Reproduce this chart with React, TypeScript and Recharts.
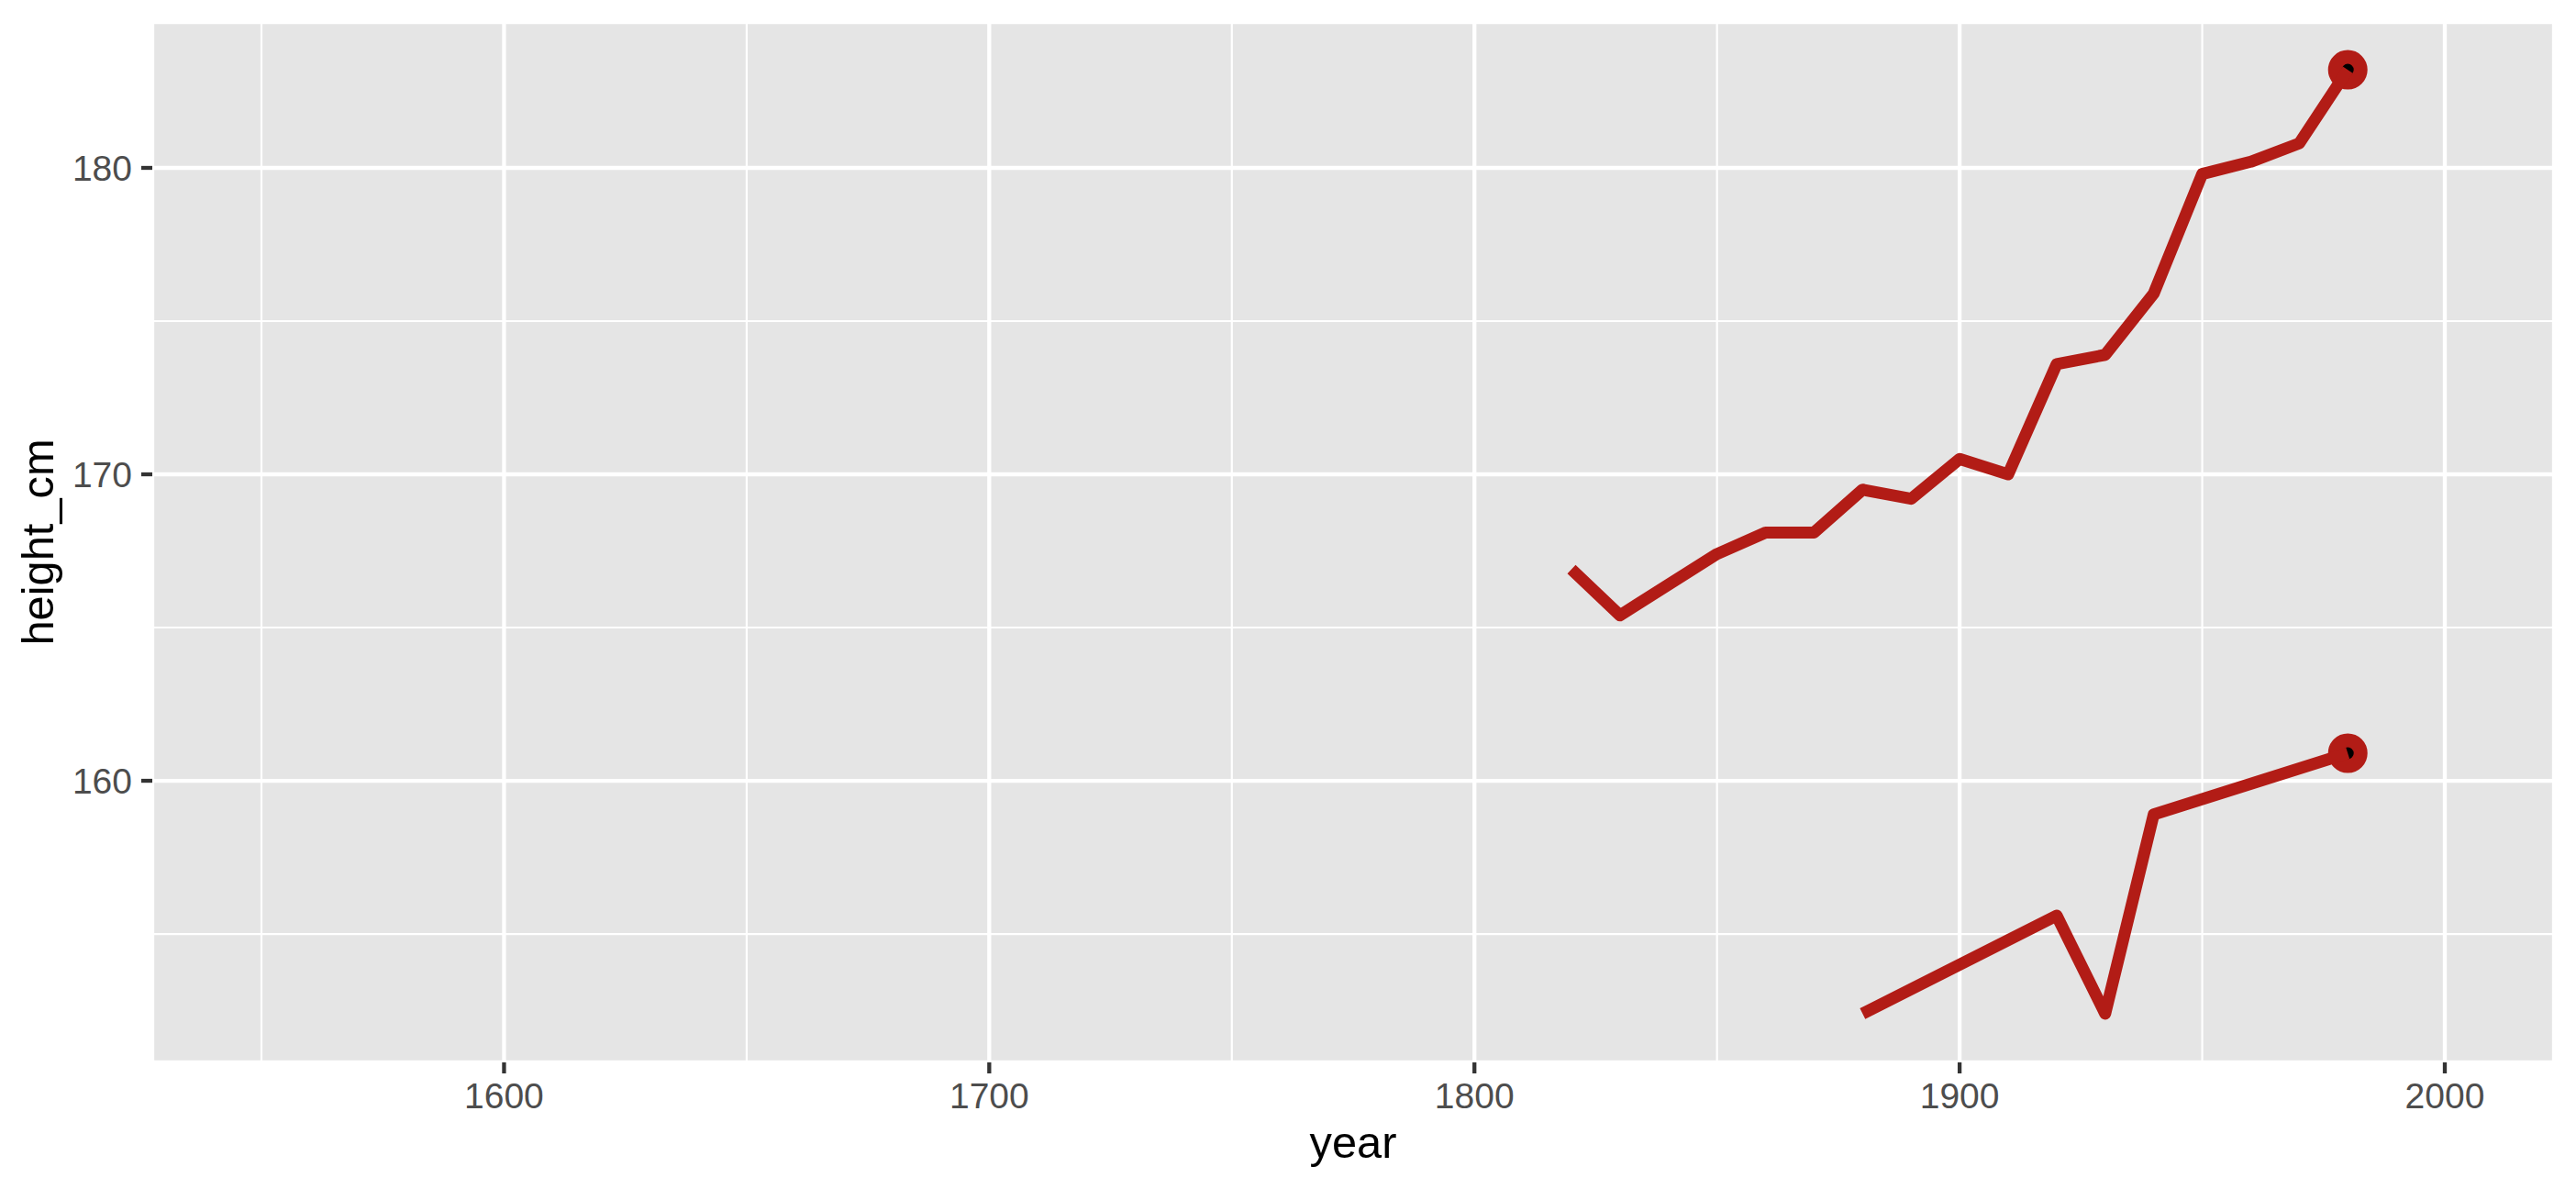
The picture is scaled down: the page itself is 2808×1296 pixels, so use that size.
import React from 'react';
import {
  ComposedChart,
  Line,
  Scatter,
  XAxis,
  YAxis,
  CartesianGrid,
  ReferenceLine,
  Label,
} from 'recharts';

// ---- data ----
const topYears = [1820, 1830, 1850, 1860, 1870, 1880, 1890, 1900, 1910, 1920, 1930, 1940, 1950, 1960, 1970, 1980];
const topHeights = [166.9, 165.4, 167.4, 168.1, 168.1, 169.5, 169.2, 170.5, 170.0, 173.6, 173.9, 175.9, 179.8, 180.2, 180.8, 183.2];

const bottomYears = [1880, 1920, 1930, 1940, 1980];
const bottomHeights = [152.4, 155.6, 152.4, 158.9, 160.9];

const xTicks = [1600, 1700, 1800, 1900, 2000];
const xMinor = [1550, 1650, 1750, 1850, 1950];
const yTicks = [160, 170, 180];
const yMinor = [155, 165, 175];

const X_DOMAIN: [number, number] = [1527.5, 2022.5];
const Y_DOMAIN: [number, number] = [150.81, 184.76];

const RED = '#B21C16';
const FONT = '"Liberation Sans", Arial, Helvetica, sans-serif';

const topData = topYears.map((year, i) => ({ year, height: topHeights[i] }));
const bottomData = bottomYears.map((year, i) => ({ year, height: bottomHeights[i] }));
const endPoints = [topData[topData.length - 1], bottomData[bottomData.length - 1]];

const EndDot = (props: any) => {
  const { cx, cy } = props;
  if (cx == null || cy == null) return null;
  return <circle cx={cx} cy={cy} r={14} fill="#000000" stroke={RED} strokeWidth={15} />;
};

const XTitle = (props: any) => {
  const vb = props.viewBox || {};
  return (
    <text
      x={vb.x + vb.width / 2}
      y={1262}
      textAnchor="middle"
      fontSize={48.8}
      fontFamily={FONT}
      fill="#000000"
    >
      year
    </text>
  );
};

const YTitle = (props: any) => {
  const vb = props.viewBox || {};
  const cy = vb.y + vb.height / 2;
  const cx = 58;
  return (
    <text
      x={cx}
      y={cy}
      transform={`rotate(-90, ${cx}, ${cy})`}
      textAnchor="middle"
      fontSize={48.8}
      fontFamily={FONT}
      fill="#000000"
    >
      height_cm
    </text>
  );
};

const tickStyle = { fontSize: 39, fill: '#4D4D4D', fontFamily: FONT };
const tickLineStyle = { stroke: '#333333', strokeWidth: 4.3 };

export default function App() {
  return (
    <div style={{ position: 'absolute', left: 0, top: 0, background: '#FFFFFF' }}>
      <ComposedChart
        width={2808}
        height={1296}
        margin={{ top: 24, right: 24, bottom: 0, left: 0 }}
      >
        <CartesianGrid
          fill="#E5E5E5"
          fillOpacity={1}
          stroke="#FFFFFF"
          strokeWidth={4.3}
          horizontal
          vertical
        />
        {xMinor.map((v) => (
          <ReferenceLine key={'xm' + v} x={v} stroke="#FFFFFF" strokeWidth={2.2} zIndex={-50} />
        ))}
        {yMinor.map((v) => (
          <ReferenceLine key={'ym' + v} y={v} stroke="#FFFFFF" strokeWidth={2.2} zIndex={-50} />
        ))}
        <XAxis
          type="number"
          dataKey="year"
          domain={X_DOMAIN}
          ticks={xTicks}
          interval={0}
          allowDataOverflow
          height={138}
          axisLine={false}
          tickLine={tickLineStyle}
          tickSize={12}
          tickMargin={10}
          tick={tickStyle}
        >
          <Label content={<XTitle />} />
        </XAxis>
        <YAxis
          type="number"
          dataKey="height"
          domain={Y_DOMAIN}
          ticks={yTicks}
          interval={0}
          allowDataOverflow
          width={166}
          axisLine={false}
          tickLine={tickLineStyle}
          tickSize={12}
          tickMargin={10}
          tick={tickStyle}
        >
          <Label content={<YTitle />} />
        </YAxis>
        <Scatter
          data={endPoints}
          dataKey="height"
          shape={<EndDot />}
          isAnimationActive={false}
          zIndex={300}
        />
        <Line
          data={topData}
          dataKey="height"
          type="linear"
          stroke={RED}
          strokeWidth={13}
          strokeLinejoin="round"
          strokeLinecap="butt"
          dot={false}
          activeDot={false}
          isAnimationActive={false}
          zIndex={400}
        />
        <Line
          data={bottomData}
          dataKey="height"
          type="linear"
          stroke={RED}
          strokeWidth={13}
          strokeLinejoin="round"
          strokeLinecap="butt"
          dot={false}
          activeDot={false}
          isAnimationActive={false}
          zIndex={400}
        />
      </ComposedChart>
    </div>
  );
}
